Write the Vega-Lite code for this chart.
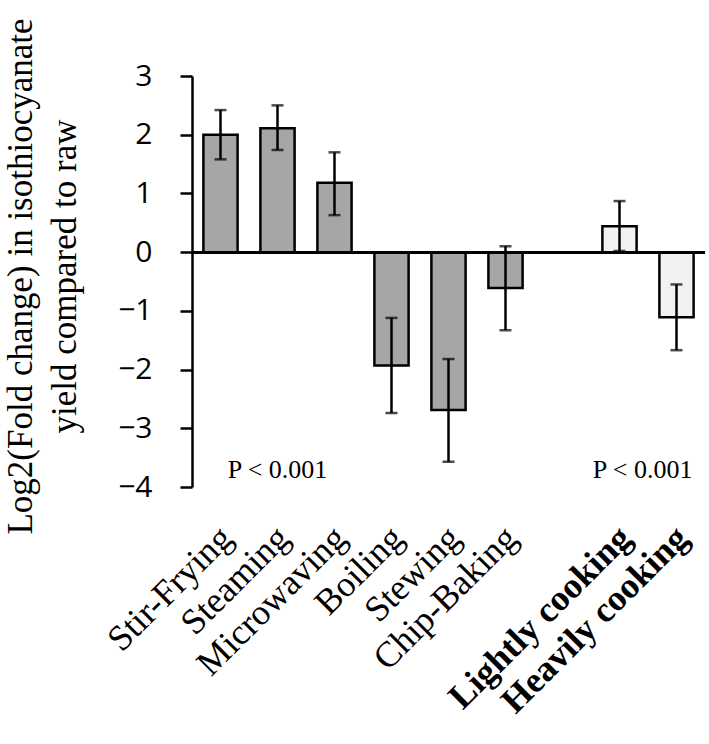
{
  "$schema": "https://vega.github.io/schema/vega-lite/v6.json",
  "autosize": {"type": "none"},
  "padding": {"left": 192, "top": 76, "right": 4, "bottom": 257},
  "width": 513,
  "height": 411,
  "background": "white",
  "config": {"view": {"stroke": null}},
  "data": {
    "values": [
      {"method": "Stir-Frying", "group": "method", "value": 2.00, "lo": 1.58, "hi": 2.42},
      {"method": "Steaming", "group": "method", "value": 2.11, "lo": 1.74, "hi": 2.50},
      {"method": "Microwaving", "group": "method", "value": 1.18, "lo": 0.63, "hi": 1.70},
      {"method": "Boiling", "group": "method", "value": -1.93, "lo": -2.74, "hi": -1.12},
      {"method": "Stewing", "group": "method", "value": -2.69, "lo": -3.57, "hi": -1.82},
      {"method": "Chip-Baking", "group": "method", "value": -0.61, "lo": -1.33, "hi": 0.10},
      {"method": "Lightly cooking", "group": "summary", "value": 0.44, "lo": 0.02, "hi": 0.87},
      {"method": "Heavily cooking", "group": "summary", "value": -1.11, "lo": -1.67, "hi": -0.55}
    ]
  },
  "encoding": {
    "x": {
      "field": "method",
      "type": "nominal",
      "sort": null,
      "scale": {
        "domain": ["Stir-Frying", "Steaming", "Microwaving", "Boiling", "Stewing", "Chip-Baking", " ", "Lightly cooking", "Heavily cooking"],
        "paddingInner": 0.4,
        "paddingOuter": 0.2
      },
      "axis": {
        "title": null,
        "orient": "bottom",
        "domain": false,
        "ticks": false,
        "labelAngle": -45,
        "labelAlign": "right",
        "labelBaseline": "middle",
        "labelFont": "Liberation Serif",
        "labelFontSize": 36,
        "labelColor": "black",
        "labelPadding": 45,
        "labelOffset": 6,
        "labelOverlap": false,
        "labelLimit": 500,
        "labelFontWeight": {
          "condition": {"test": "indexof(['Lightly cooking','Heavily cooking'], datum.value) >= 0", "value": "bold"},
          "value": "normal"
        }
      }
    }
  },
  "layer": [
    {
      "mark": {"type": "bar", "stroke": "black", "strokeWidth": 2.5},
      "encoding": {
        "y": {
          "field": "value",
          "type": "quantitative",
          "scale": {"domain": [-4, 3], "nice": false, "zero": false},
          "axis": {
            "values": [-4, -3, -2, -1, 0, 1, 2, 3],
            "format": "d",
            "grid": false,
            "domainColor": "black",
            "domainWidth": 2.5,
            "tickColor": "black",
            "tickWidth": 2.5,
            "tickSize": 12,
            "labelPadding": 28,
            "labelFont": "Open Sans",
            "labelFontSize": 30,
            "labelColor": "black",
            "title": ["Log2(Fold change) in isothiocyanate", "yield compared to raw"],
            "titleFont": "Liberation Serif",
            "titleFontSize": 35,
            "titleFontWeight": "normal",
            "titleColor": "black",
            "titleLineHeight": 44,
            "titleAngle": -90,
            "titleAlign": "center",
            "titleBaseline": "alphabetic",
            "titleX": -161,
            "titleY": 200
          }
        },
        "color": {
          "field": "group",
          "type": "nominal",
          "scale": {"domain": ["method", "summary"], "range": ["#a6a6a6", "#f2f2f2"]},
          "legend": null
        }
      }
    },
    {
      "mark": {"type": "rule", "color": "black", "strokeWidth": 2.5},
      "encoding": {"y": {"datum": 0}, "x": null}
    },
    {
      "mark": {"type": "rule", "color": "black", "strokeWidth": 2.5},
      "encoding": {
        "y": {"field": "lo", "type": "quantitative"},
        "y2": {"field": "hi"}
      }
    },
    {
      "mark": {"type": "tick", "color": "black", "thickness": 2.5, "size": 12, "orient": "horizontal"},
      "encoding": {"y": {"field": "lo", "type": "quantitative"}}
    },
    {
      "mark": {"type": "tick", "color": "black", "thickness": 2.5, "size": 12, "orient": "horizontal"},
      "encoding": {"y": {"field": "hi", "type": "quantitative"}}
    },
    {
      "data": {"values": [{"method": "Steaming", "y": -3.71, "label": "P < 0.001"}]},
      "mark": {"type": "text", "font": "Liberation Serif", "fontSize": 26, "color": "black", "align": "center", "baseline": "middle"},
      "encoding": {
        "y": {"field": "y", "type": "quantitative"},
        "text": {"field": "label"}
      }
    },
    {
      "data": {"values": [{"method": "Heavily cooking", "y": -3.71, "label": "P < 0.001"}]},
      "mark": {"type": "text", "font": "Liberation Serif", "fontSize": 26, "color": "black", "align": "right", "baseline": "middle", "dx": 16},
      "encoding": {
        "y": {"field": "y", "type": "quantitative"},
        "text": {"field": "label"}
      }
    }
  ]
}
